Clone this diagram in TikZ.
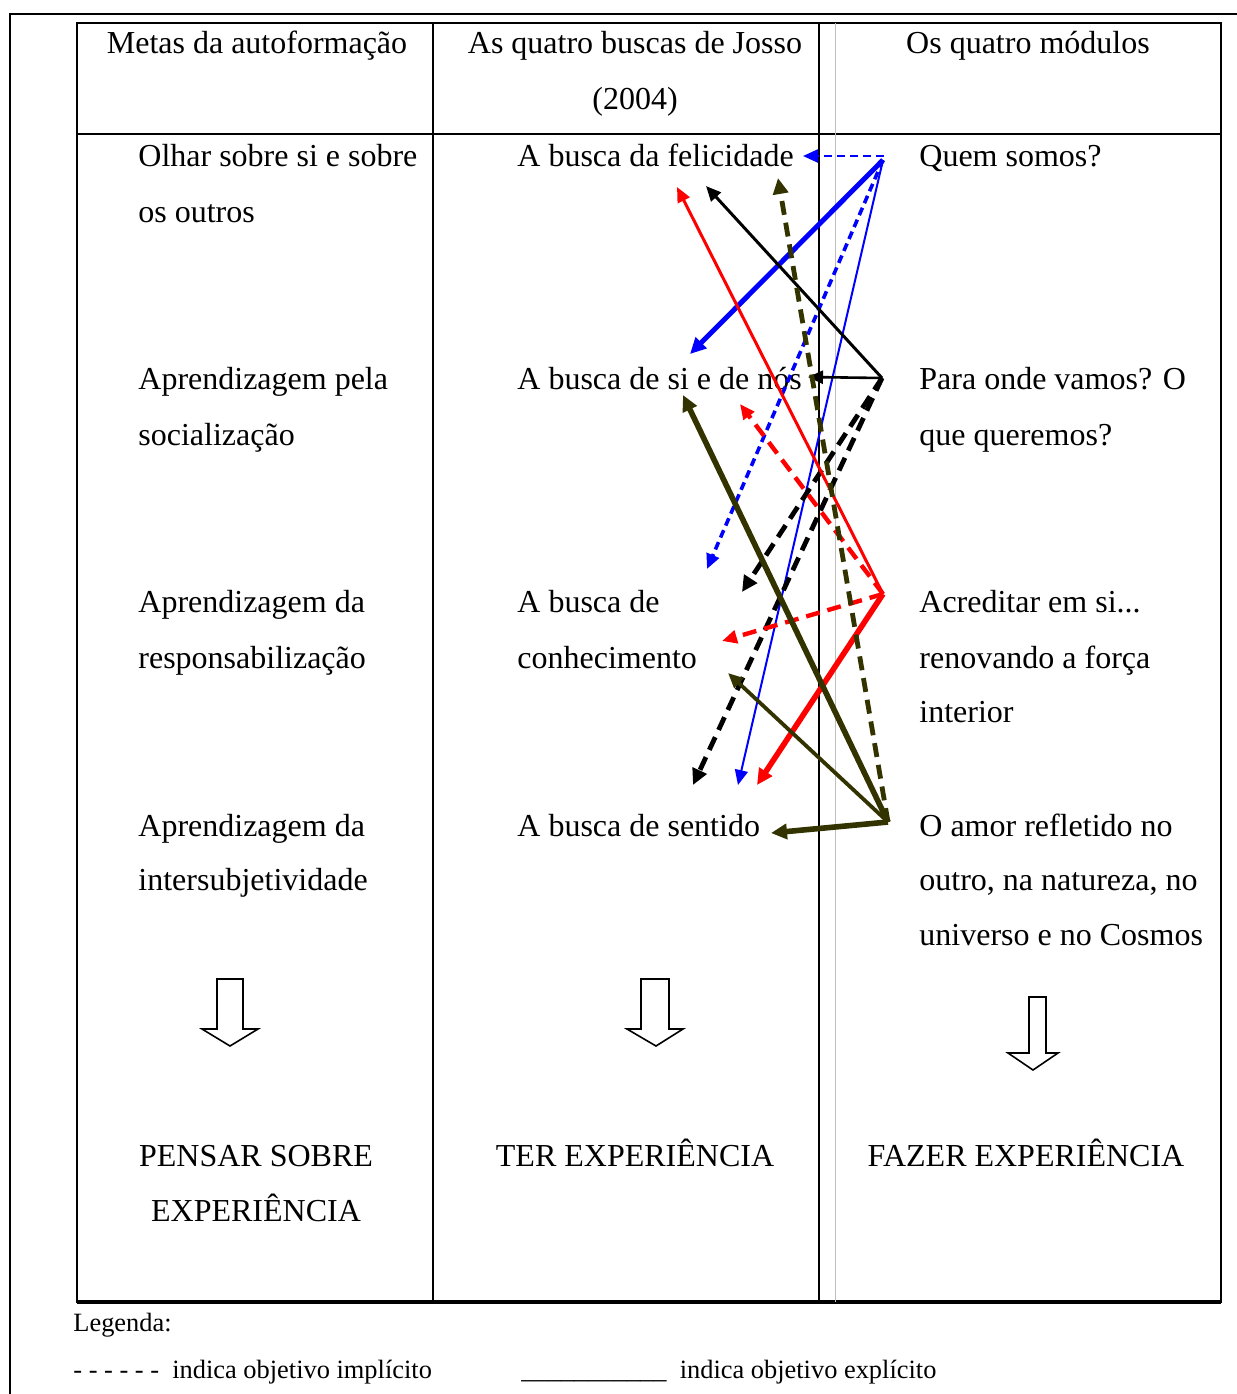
\documentclass[tikz,border=0pt]{standalone}
\usepackage{fontspec}
\setmainfont{Liberation Serif}
\usetikzlibrary{arrows.meta}
\definecolor{darkolive}{RGB}{51,51,0}
\definecolor{lightrule}{RGB}{190,190,190}
\tikzset{
  txt/.style={inner sep=0pt, anchor=base west, font=\fontsize{16}{28}\selectfont},
  ctxt/.style={inner sep=0pt, anchor=base, font=\fontsize{16}{28}\selectfont},
  legtxt/.style={inner sep=0pt, anchor=base west, font=\fontsize{13.2}{15}\selectfont},
  rule/.style={line width=1.1pt, black},
  hollow/.style={draw=black, line width=0.8pt, fill=white, line join=miter},
  tipS/.style={-{Triangle[length=7.5pt,width=6.5pt]}},
  tipL/.style={-{Triangle[length=8pt,width=7.5pt]}},
  dsh/.style={dash pattern=on 7pt off 4pt},
  dshs/.style={dash pattern=on 4pt off 2.5pt},
}
\begin{document}
\begin{tikzpicture}[x=0.5pt,y=-0.5pt]
\useasboundingbox (0,0) rectangle (1237,1394);
% outer frame
\draw[line width=0.8pt] (10,1394) -- (10,14) -- (1237,14);
% table
\draw[rule] (77,23) rectangle (1221,1302);
\draw[line width=1.7pt] (77,1302) -- (1221,1302);
\draw[rule] (77,134) -- (1221,134);
\draw[rule] (433,23) -- (433,1302);
\draw[rule] (819,23) -- (819,1302);
\draw[lightrule, line width=0.5pt] (835,23) -- (835,1302);

% headers
\node[ctxt] (h1) at (257,53) {Metas da autoformação};
\node[ctxt] (h2) at (635,53) {As quatro buscas de Josso};
\node[ctxt] (h2b) at (635,109) {(2004)};
\node[ctxt] (h3) at (1028,53) {Os quatro módulos};

% column 1
\node[txt] (a1) at (138,166) {Olhar sobre si e sobre};
\node[txt] (a1b) at (138,222) {os outros};
\node[txt] (a2) at (138,389) {Aprendizagem pela};
\node[txt] (a2b) at (138,445) {socialização};
\node[txt] (a3) at (138,612) {Aprendizagem da};
\node[txt] (a3b) at (138,668) {responsabilização};
\node[txt] (a4) at (138,836) {Aprendizagem da};
\node[txt] (a4b) at (138,890) {intersubjetividade};

% column 2
\node[txt] (b1) at (517,166) {A busca da felicidade};
\node[txt] (b2) at (517,389) {A busca de si e de nós};
\node[txt] (b3) at (517,612) {A busca de};
\node[txt] (b3b) at (517,668) {conhecimento};
\node[txt] (b4) at (517,836) {A busca de sentido};

% column 3
\node[txt] (c1) at (919,166) {Quem somos?};
\node[txt] (c2) at (919,389) {Para onde vamos? O};
\node[txt] (c2b) at (919,445) {que queremos?};
\node[txt] (c3) at (919,612) {Acreditar em si...};
\node[txt] (c3b) at (919,668) {renovando a força};
\node[txt] (c3c) at (919,722) {interior};
\node[txt] (c4) at (919,836) {O amor refletido no};
\node[txt] (c4b) at (919,890) {outro, na natureza, no};
\node[txt] (c4c) at (919,945) {universo e no Cosmos};

% hollow arrows
\draw[hollow] (217,979) -- (243,979) -- (243,1029) -- (258,1029) -- (230,1046) -- (202,1029) -- (217,1029) -- cycle;
\draw[hollow] (641,979) -- (669,979) -- (669,1029) -- (683,1029) -- (656,1046) -- (627,1029) -- (641,1029) -- cycle;
\draw[hollow] (1029,997) -- (1046,997) -- (1046,1053) -- (1058,1053) -- (1033,1070) -- (1008,1053) -- (1020,1053) -- (1029,1053) -- cycle;

% bottom texts
\node[ctxt] (p1) at (256,1166) {PENSAR SOBRE};
\node[ctxt] (p1b) at (256,1221) {EXPERIÊNCIA};
\node[ctxt] (p2) at (635,1166) {TER EXPERIÊNCIA};
\node[ctxt] (p3) at (1026,1166) {FAZER EXPERIÊNCIA};

% legend
\node[legtxt] (lg) at (73,1331) {Legenda:};
\node[legtxt] (lg1) at (73,1378) {- - - - - -\ \ indica objetivo implícito};
\node[legtxt] (lg2) at (521,1378) {\_\_\_\_\_\_\_\_\_\_\_\ \ indica objetivo explícito};

% arrow endpoints
\coordinate (S1) at (883,160);
\coordinate (S1h) at (884,156);
\coordinate (S2) at (882,378);
\coordinate (S3) at (883,594);
\coordinate (S4) at (888,822);
\coordinate (tb1) at (803,156);
\coordinate (tb2) at (690,354);
\coordinate (tb3) at (707,569);
\coordinate (tb4) at (738,785);
\coordinate (tk1) at (706,186);
\coordinate (tk2) at (808,377);
\coordinate (tk3) at (742,592);
\coordinate (tk4) at (693,785);
\coordinate (tr1) at (677,187);
\coordinate (tr2) at (740,404);
\coordinate (tr3) at (722,641);
\coordinate (tr4) at (757,785);
\coordinate (to1) at (778,178);
\coordinate (to2) at (683,395);
\coordinate (to3) at (728,673);
\coordinate (to4) at (771,833);

% blue
\draw[blue, line width=1.2pt, dshs, tipS] (S1h) -- (tb1);
\draw[blue, line width=2.5pt, tipL] (S1) -- (tb2);
\draw[blue, line width=1.8pt, dshs, tipS] (S1) -- (tb3);
\draw[blue, line width=1pt, tipS] (S1) -- (tb4);
% black
\draw[black, line width=1.5pt, tipS] (S2) -- (tk1);
\draw[black, line width=1.3pt, tipS] (S2) -- (tk2);
\draw[black, line width=2.4pt, dsh, tipL] (S2) -- (tk3);
\draw[black, line width=2.4pt, dsh, tipL] (S2) -- (tk4);
% red
\draw[red, line width=1.5pt, tipS] (S3) -- (tr1);
\draw[red, line width=2.2pt, dsh, tipS] (S3) -- (tr2);
\draw[red, line width=2.2pt, dsh, tipS] (S3) -- (tr3);
\draw[red, line width=2.8pt, tipL] (S3) -- (tr4);
% olive
\draw[darkolive, line width=2.4pt, dsh, tipL] (S4) -- (to1);
\draw[darkolive, line width=2.8pt, tipL] (S4) -- (to2);
\draw[darkolive, line width=1.9pt, tipS] (S4) -- (to3);
\draw[darkolive, line width=2.8pt, tipL] (S4) -- (to4);
\end{tikzpicture}
\end{document}
